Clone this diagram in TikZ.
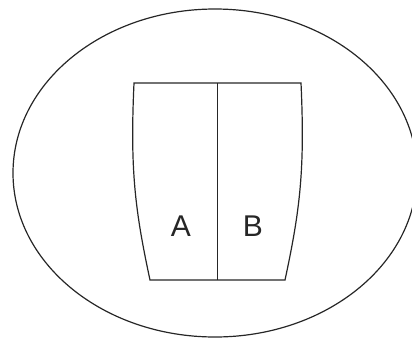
\documentclass[tikz,border=0pt]{standalone}
\usepackage{fontspec}
\setmainfont{Liberation Sans}
\begin{document}
\begin{tikzpicture}[x=1pt,y=-1pt,line width=1.2pt,
  outline/.style={draw=black!85,line join=miter},
  lbl/.style={font=\fontsize{30}{36}\selectfont,text=black!85,inner sep=0pt}]
\useasboundingbox (0,0) rectangle (412,338);
\begin{scope}
\clip (0,0) rectangle (412,338);
\draw[outline] (215,173) ellipse [x radius=202, y radius=164];
\end{scope}
\coordinate (tl) at (134,83);
\coordinate (tr) at (301,83);
\coordinate (bl) at (150,280);
\coordinate (br) at (285,280);
\coordinate (tm) at (217.5,83);
\coordinate (bm) at (217.5,280);
\draw[outline] (tl) -- (tr) .. controls (305,170) and (300,210) .. (br)
  -- (bl) .. controls (135,210) and (130,170) .. cycle;
\draw[outline] (tm) -- (bm);
\node[lbl] (A) at (181,226) {A};
\node[lbl] (B) at (253,226) {B};
\end{tikzpicture}
\end{document}
